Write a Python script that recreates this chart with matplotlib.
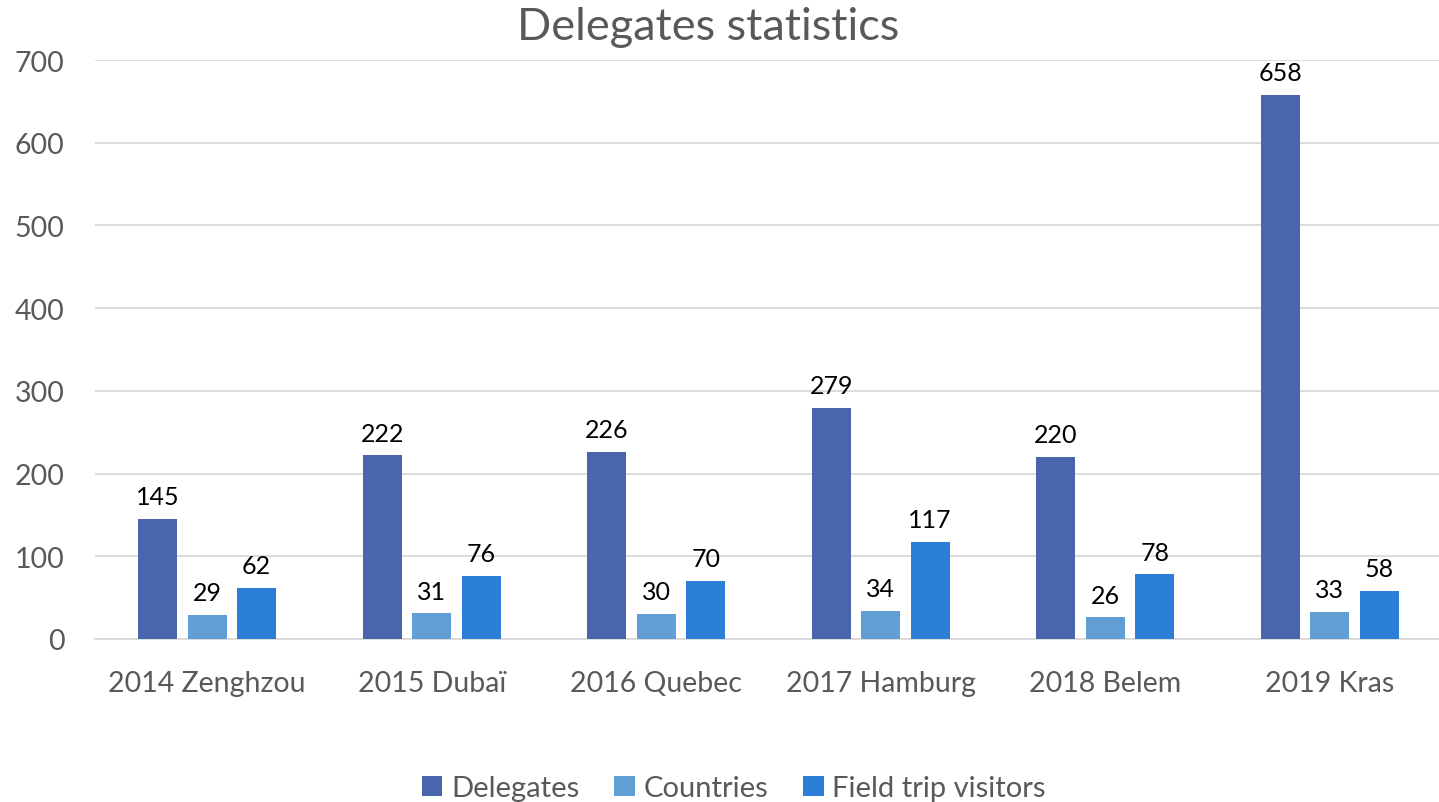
import matplotlib
matplotlib.use("Agg")
import matplotlib.pyplot as plt
import numpy as np

categories = ["2014 Zenghzou", "2015 Dubaï", "2016 Quebec", "2017 Hamburg", "2018 Belem", "2019 Kras"]
delegates = [145, 222, 226, 279, 220, 658]
countries = [29, 31, 30, 34, 26, 33]
field_trip = [62, 76, 70, 117, 78, 58]
series_names = ["Delegates", "Countries", "Field trip visitors"]
colors = ["#4865AE", "#619ED3", "#2B7FD7"]

plt.rcParams['font.family'] = ['Lato', 'DejaVu Sans']

fig = plt.figure(figsize=(14.39, 8.03), dpi=100)
ax = fig.add_axes([95/1439, 163/803, 1347/1439, 579/803])

x = np.arange(len(categories))
bw = 0.174
step = 0.22
handles = []
for i, (vals, name, c) in enumerate(zip([delegates, countries, field_trip], series_names, colors)):
    pos = x + (i - 1) * step
    b = ax.bar(pos, vals, width=bw, color=c, label=name, zorder=3)
    handles.append(b)
    for p, v in zip(pos, vals):
        ax.text(p, v + 13, str(v), ha='center', va='bottom', fontsize=18, color='black')

ax.set_xlim(-0.5, len(categories) - 0.5)
ax.set_ylim(0, 700)
ax.set_yticks(range(0, 701, 100))
ax.yaxis.grid(True, color='#D9D9D9', linewidth=1.3, zorder=0)
ax.set_axisbelow(True)
for s in ['top', 'right', 'left']:
    ax.spines[s].set_visible(False)
ax.spines['bottom'].set_color('#D9D9D9')
ax.spines['bottom'].set_linewidth(1.3)
ax.tick_params(axis='both', length=0, labelsize=20.5, labelcolor='#595959')
ax.tick_params(axis='y', pad=22)
ax.tick_params(axis='x', pad=22)
ax.set_xticks(x)
ax.set_xticklabels(categories)

fig.text(708/1439, 1 - 28/803, "Delegates statistics", ha='center', va='center', fontsize=32.5, color='#595959')

leg = fig.legend(handles=handles, labels=series_names, loc='center', bbox_to_anchor=(734/1439, 1 - 789/803),
                 ncol=3, frameon=False, fontsize=21, handlelength=0.7, handleheight=0.7,
                 handletextpad=0.3, columnspacing=1.2)
for t in leg.get_texts():
    t.set_color('#595959')

fig.savefig("out.png", dpi=100)
